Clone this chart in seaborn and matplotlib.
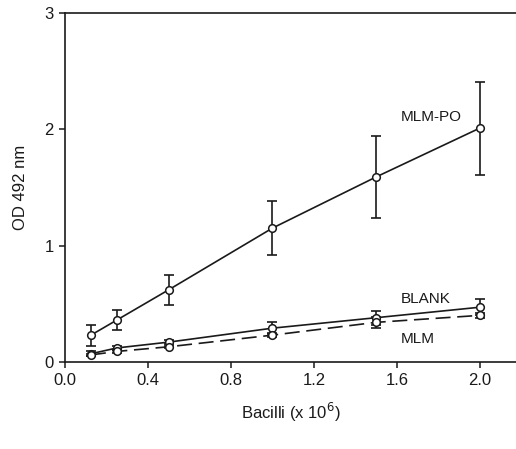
import matplotlib
matplotlib.use("Agg")
import matplotlib.pyplot as plt
import pandas as pd
import seaborn as sns

# Data
bacilli = [0.125, 0.25, 0.5, 1.0, 1.5, 2.0]
mlm_po = [0.23, 0.36, 0.62, 1.15, 1.59, 2.01]
mlm_po_err = [0.09, 0.09, 0.13, 0.23, 0.35, 0.40]
blank = [0.07, 0.12, 0.17, 0.29, 0.38, 0.47]
blank_err = [0.02, 0.02, 0.02, 0.05, 0.06, 0.07]
mlm = [0.06, 0.09, 0.13, 0.23, 0.34, 0.40]
mlm_err = [0.01, 0.01, 0.01, 0.02, 0.05, 0.02]

series = [
    ("MLM-PO", mlm_po, mlm_po_err, "-"),
    ("BLANK", blank, blank_err, "-"),
    ("MLM", mlm, mlm_err, (0, (9, 4))),
]

sns.set_style("ticks")
plt.rcParams["font.family"] = ["Liberation Sans", "DejaVu Sans"]

fig = plt.figure(figsize=(5.16, 4.49), dpi=100)
ax = fig.add_axes([0.126, 0.194, 0.876, 0.777])

ink = "#1a1a1a"
for name, vals, errs, ls in series:
    df = pd.DataFrame({"x": bacilli, "y": vals})
    ax.errorbar(bacilli, vals, yerr=errs, fmt="none", ecolor=ink,
                elinewidth=1.2, capsize=3.5, capthick=1.2, zorder=2)
    sns.lineplot(data=df, x="x", y="y", ax=ax, color=ink, linewidth=1.2,
                 linestyle=ls, marker="o", markersize=5.5,
                 markerfacecolor="white", markeredgecolor=ink,
                 markeredgewidth=1.1, zorder=3)

ax.text(1.62, 2.11, "MLM-PO", fontsize=11, va="center", color=ink)
ax.text(1.62, 0.54, "BLANK", fontsize=11, va="center", color=ink)
ax.text(1.62, 0.20, "MLM", fontsize=11, va="center", color=ink)

ax.set_xlim(0, 2.18)
ax.set_ylim(0, 3)
ax.set_xticks([0.0, 0.4, 0.8, 1.2, 1.6, 2.0])
ax.set_xticklabels(["0.0", "0.4", "0.8", "1.2", "1.6", "2.0"])
ax.set_yticks([0, 1, 2, 3])
ax.tick_params(labelsize=12, direction="out", length=4.5, width=1.1,
               color=ink, labelcolor=ink)
for s in ["left", "bottom", "top"]:
    ax.spines[s].set_color(ink)
    ax.spines[s].set_linewidth(1.2)
ax.spines["right"].set_visible(False)

ax.set_xlabel("Bacilli (x 10$^{6}$)", fontsize=12, color=ink, labelpad=9)
ax.set_ylabel("OD 492 nm", fontsize=12, color=ink, labelpad=12)

fig.savefig("out.png", dpi=100)
